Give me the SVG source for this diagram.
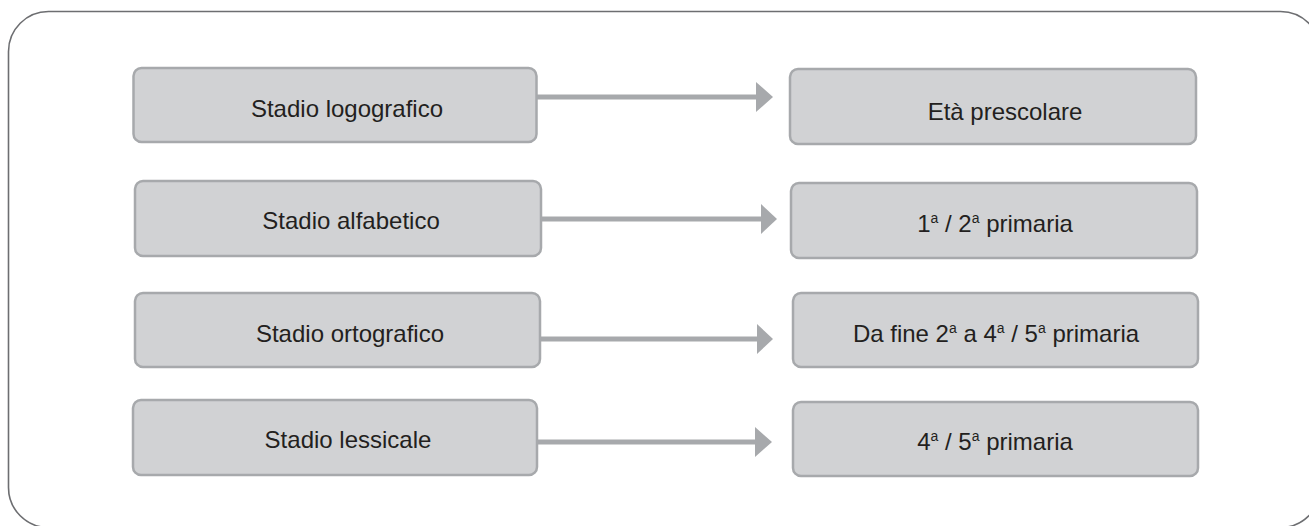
<svg xmlns="http://www.w3.org/2000/svg" width="1309" height="526" viewBox="0 0 1309 526">
<style>
.frame{fill:#ffffff;stroke:#6d6e71;stroke-width:1.6}
.box{fill:#d1d2d4;stroke:#a7a9ac;stroke-width:2.5}
.lbl{font-family:"Liberation Sans",Arial,sans-serif;font-size:24px;fill:#231f20;text-anchor:middle}
.line{stroke:#a7a9ac;stroke-width:5;fill:none}
.head{fill:#a7a9ac}
</style>
<rect width="1309" height="526" fill="#ffffff"/>
<rect class="frame" x="8.5" y="11.5" width="1312" height="516" rx="40" ry="40"/>
<g id="connectors">
<line class="line" x1="537" y1="97" x2="758" y2="97"/>
<polygon class="head" points="756,82 773,97 756,112"/>
<line class="line" x1="541" y1="219" x2="763" y2="219"/>
<polygon class="head" points="761,204 777,219 761,234"/>
<line class="line" x1="540" y1="339" x2="759" y2="339"/>
<polygon class="head" points="757,324 773,339 757,354"/>
<line class="line" x1="537" y1="442" x2="757" y2="442"/>
<polygon class="head" points="755,427 772,442 755,457"/>
</g>
<g id="n-logografico">
<rect class="box" x="133.5" y="68" width="403" height="74" rx="8"/>
<text class="lbl" x="347" y="117">Stadio logografico</text>
</g>
<g id="n-alfabetico">
<rect class="box" x="135" y="181" width="406" height="75" rx="8"/>
<text class="lbl" x="351" y="229">Stadio alfabetico</text>
</g>
<g id="n-ortografico">
<rect class="box" x="135" y="293" width="405" height="74" rx="8"/>
<text class="lbl" x="350" y="342">Stadio ortografico</text>
</g>
<g id="n-lessicale">
<rect class="box" x="133" y="400" width="404" height="75" rx="8"/>
<text class="lbl" x="348" y="448">Stadio lessicale</text>
</g>
<g id="n-prescolare">
<rect class="box" x="790" y="69" width="406" height="75" rx="8"/>
<text class="lbl" x="1005" y="120">Età prescolare</text>
</g>
<g id="n-12primaria">
<rect class="box" x="791" y="183" width="406" height="75" rx="8"/>
<text class="lbl" x="995" y="232">1<tspan font-size="14" dy="-9">a</tspan><tspan dy="9"> / 2</tspan><tspan font-size="14" dy="-9">a</tspan><tspan dy="9"> primaria</tspan></text>
</g>
<g id="n-fine2">
<rect class="box" x="793" y="293" width="405" height="74" rx="8"/>
<text class="lbl" x="996" y="342">Da fine 2<tspan font-size="14" dy="-9">a</tspan><tspan dy="9"> a 4</tspan><tspan font-size="14" dy="-9">a</tspan><tspan dy="9"> / 5</tspan><tspan font-size="14" dy="-9">a</tspan><tspan dy="9"> primaria</tspan></text>
</g>
<g id="n-45primaria">
<rect class="box" x="793" y="402" width="405" height="74" rx="8"/>
<text class="lbl" x="995" y="450">4<tspan font-size="14" dy="-9">a</tspan><tspan dy="9"> / 5</tspan><tspan font-size="14" dy="-9">a</tspan><tspan dy="9"> primaria</tspan></text>
</g>
</svg>
